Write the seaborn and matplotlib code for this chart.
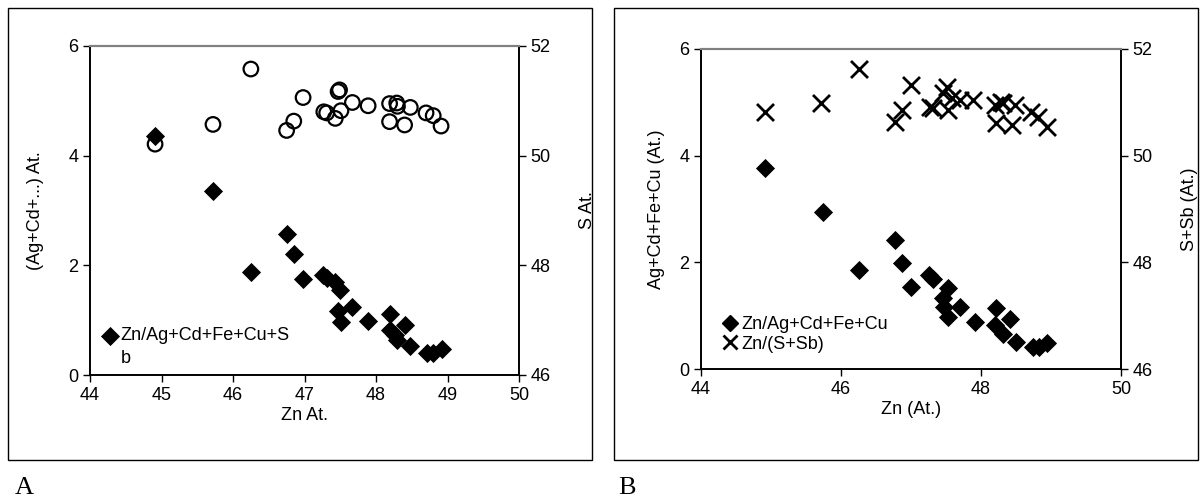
import matplotlib
matplotlib.use("Agg")
import matplotlib.pyplot as plt
import seaborn as sns
from matplotlib.patches import Rectangle
from matplotlib.lines import Line2D

# ---- panel A data ----
zn_a_metal = [44.91, 45.72, 46.25, 46.75, 46.85, 46.98, 47.26, 47.31, 47.43, 47.50,
              47.47, 47.51, 47.67, 47.89, 48.20, 48.19, 48.26, 48.30, 48.41, 48.48,
              48.72, 48.80, 48.92]
metal_a = [4.36, 3.35, 1.87, 2.57, 2.20, 1.75, 1.82, 1.76, 1.70, 1.55,
           1.16, 0.97, 1.24, 0.99, 1.11, 0.82, 0.73, 0.64, 0.91, 0.52,
           0.41, 0.40, 0.47]
zn_a_s = [44.91, 45.72, 46.25, 46.75, 46.85, 46.98, 47.27, 47.31, 47.43, 47.49,
          47.47, 47.51, 47.67, 47.89, 48.19, 48.19, 48.29, 48.30, 48.40, 48.48,
          48.70, 48.80, 48.91]
s_a = [50.21, 50.57, 51.58, 50.46, 50.63, 51.06, 50.80, 50.78, 50.68, 51.20,
       51.17, 50.82, 50.97, 50.91, 50.95, 50.62, 50.96, 50.90, 50.56, 50.88,
       50.78, 50.73, 50.54]

# ---- panel B data ----
zn_b_metal = [44.92, 45.74, 46.26, 46.77, 46.87, 47.00, 47.26, 47.32, 47.53, 47.46,
              47.47, 47.53, 47.70, 47.91, 48.21, 48.20, 48.32, 48.42, 48.50, 48.74,
              48.83, 48.94]
metal_b = [3.76, 2.95, 1.86, 2.41, 1.98, 1.53, 1.76, 1.68, 1.51, 1.33,
           1.16, 0.97, 1.17, 0.89, 1.14, 0.83, 0.66, 0.93, 0.51, 0.41,
           0.41, 0.48]
zn_b_ssb = [44.92, 45.72, 46.25, 46.77, 46.87, 47.00, 47.27, 47.32, 47.51, 47.46,
            47.53, 47.58, 47.70, 47.89, 48.20, 48.32, 48.49, 48.22, 48.44, 48.72,
            48.82, 48.94, 48.28]
ssb_b = [50.82, 50.99, 51.62, 50.64, 50.86, 51.33, 50.92, 50.89, 51.29, 51.17,
         50.86, 51.08, 51.04, 51.04, 50.95, 50.98, 50.95, 50.61, 50.58, 50.82,
         50.73, 50.54, 51.00]

sns.set_theme(style="ticks")
plt.rcParams["font.family"] = ["Liberation Sans", "DejaVu Sans"]
plt.rcParams["font.size"] = 13
plt.rcParams["text.color"] = "black"
plt.rcParams["axes.labelcolor"] = "black"

FS = 13

fig = plt.figure(figsize=(12.03, 5.01), dpi=100)

# outer frames
for x0 in (8 / 1203, 614 / 1203):
    fig.patches.append(Rectangle((x0, 41 / 501), 584 / 1203, 452 / 501,
                                 transform=fig.transFigure, fill=False,
                                 edgecolor="black", linewidth=1.0))


def style_axes(ax, ax2):
    for a in (ax, ax2):
        a.spines["top"].set_color("#808080")
        a.spines["top"].set_linewidth(1.5)
        for side in ("left", "bottom", "right"):
            a.spines[side].set_color("black")
            a.spines[side].set_linewidth(1.2)
        a.tick_params(direction="out", length=5, width=1.0, colors="black",
                      labelsize=FS, labelcolor="black")
    ax.set_ylim(0, 6)
    ax.set_yticks([0, 2, 4, 6])
    ax2.set_ylim(46, 52)
    ax2.set_yticks([46, 48, 50, 52])
    ax.set_xlim(44, 50)


# ---- panel A ----
axA = fig.add_axes([90 / 1203, 126 / 501, 429 / 1203, 329 / 501])
axA2 = axA.twinx()
sns.scatterplot(x=zn_a_metal, y=metal_a, ax=axA, marker="D", color="black",
                s=95, linewidth=0, label="Zn/Ag+Cd+Fe+Cu+S", zorder=3)
sns.scatterplot(x=zn_a_s, y=s_a, ax=axA2, marker="o", s=110,
                facecolors="none", edgecolors="black", linewidth=1.6, zorder=3)
style_axes(axA, axA2)
axA.set_xticks(range(44, 51))
axA.set_xlabel("Zn At.", fontsize=FS, labelpad=2)
axA.set_ylabel("(Ag+Cd+...) At.", fontsize=FS, labelpad=17)
axA2.set_ylabel("S At.", fontsize=FS, labelpad=20)
axA.legend(loc="lower left", bbox_to_anchor=(0.0, 0.06), frameon=False,
           handletextpad=0.1, handlelength=1.0, fontsize=FS, borderaxespad=0.2)
axA.text(0.072, 0.035, "b", transform=axA.transAxes, fontsize=FS)

# ---- panel B ----
axB = fig.add_axes([701 / 1203, 132 / 501, 420 / 1203, 320 / 501])
axB2 = axB.twinx()
sns.scatterplot(x=zn_b_metal, y=metal_b, ax=axB, marker="D", color="black",
                s=95, linewidth=0, zorder=3, legend=False)
sns.scatterplot(x=zn_b_ssb, y=ssb_b, ax=axB2, marker="x", color="black",
                s=150, linewidth=2.0, zorder=3, legend=False)
style_axes(axB, axB2)
axB.set_xticks([44, 46, 48, 50])
axB.set_xlabel("Zn (At.)", fontsize=FS, labelpad=2)
axB.set_ylabel("Ag+Cd+Fe+Cu (At.)", fontsize=FS, labelpad=10)
axB2.set_ylabel("S+Sb (At.)", fontsize=FS, labelpad=20)
handles = [Line2D([], [], marker="D", color="black", linestyle="none", markersize=8),
           Line2D([], [], marker="x", color="black", linestyle="none", markersize=10,
                  markeredgewidth=2.0)]
axB.legend(handles, ["Zn/Ag+Cd+Fe+Cu", "Zn/(S+Sb)"], loc="lower left",
           bbox_to_anchor=(0.01, 0.0), frameon=False, handletextpad=0.1,
           handlelength=1.0, labelspacing=0.15, fontsize=FS)

fig.text(15 / 1203, 1 - 494 / 501, "A", family="Liberation Serif", fontsize=19)
fig.text(618 / 1203, 1 - 494 / 501, "B", family="Liberation Serif", fontsize=19)

fig.savefig("out.png", dpi=100)
